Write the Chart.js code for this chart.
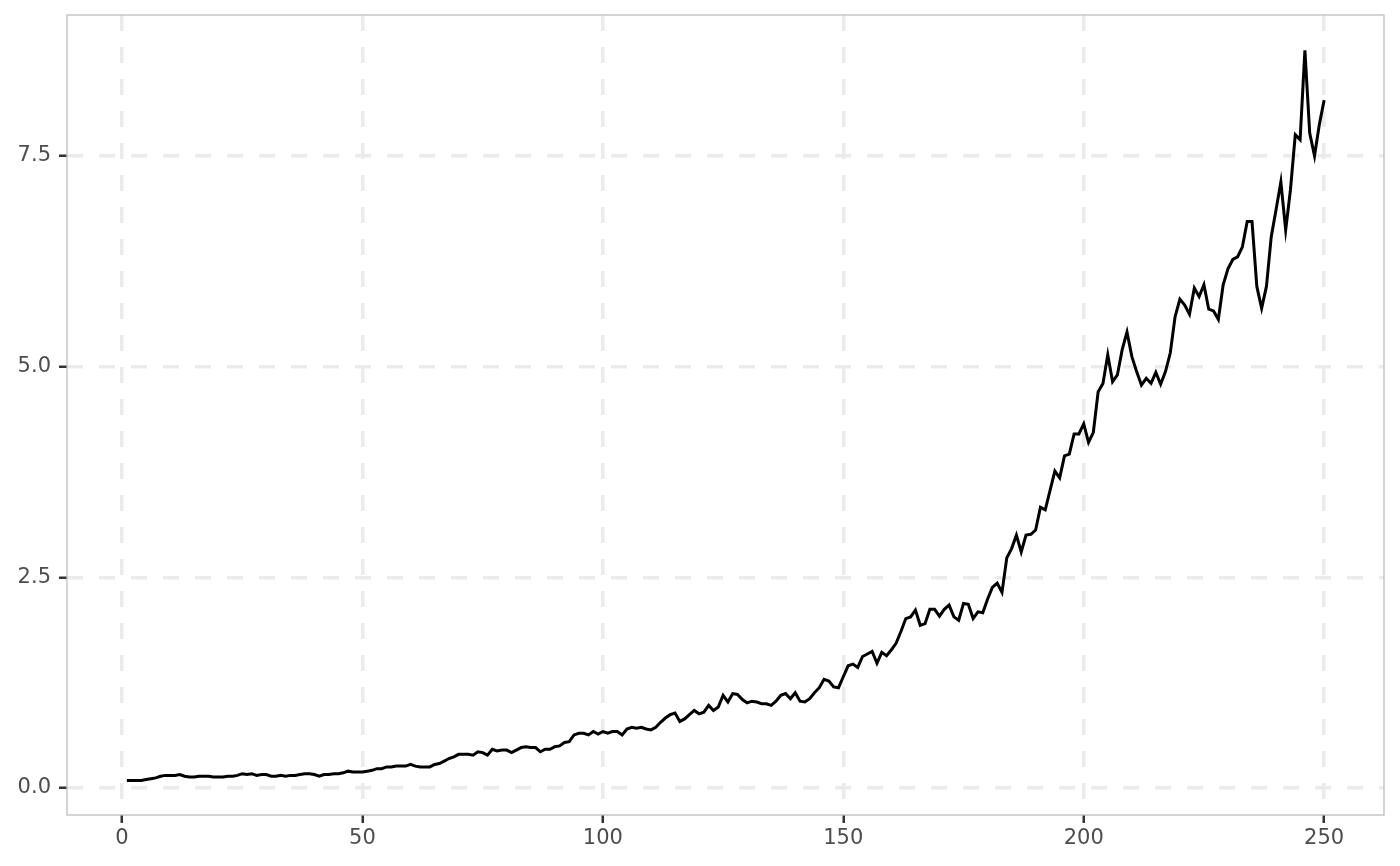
<!DOCTYPE html>
<html>
<head>
<meta charset="utf-8">
<script src="https://cdn.jsdelivr.net/npm/chart.js@4/dist/chart.umd.min.js"></script>
<style>
    html, body { margin: 0; padding: 0; background: #ffffff; }
    #wrap { width: 1400px; height: 866px; }
</style>
</head>
<body>
<div id="wrap"><canvas id="lineChart" width="1400" height="866"></canvas></div>
<script>
// Series values, one per step (step 1 .. 250)
const seriesValues = [
    0.09, 0.09, 0.09, 0.09, 0.10, 0.11, 0.12, 0.14, 0.15, 0.15,
    0.15, 0.16, 0.14, 0.13, 0.13, 0.14, 0.14, 0.14, 0.13, 0.13,
    0.13, 0.14, 0.14, 0.15, 0.17, 0.16, 0.17, 0.15, 0.16, 0.16,
    0.14, 0.14, 0.15, 0.14, 0.15, 0.15, 0.16, 0.17, 0.17, 0.16,
    0.14, 0.16, 0.16, 0.17, 0.17, 0.18, 0.20, 0.19, 0.19, 0.19,
    0.20, 0.21, 0.23, 0.23, 0.25, 0.25, 0.26, 0.26, 0.26, 0.28,
    0.26, 0.25, 0.25, 0.25, 0.28, 0.29, 0.32, 0.35, 0.37, 0.40,
    0.40, 0.40, 0.39, 0.43, 0.42, 0.39, 0.46, 0.44, 0.45, 0.45,
    0.42, 0.45, 0.48, 0.49, 0.48, 0.48, 0.43, 0.46, 0.46, 0.49,
    0.50, 0.54, 0.55, 0.63, 0.65, 0.65, 0.63, 0.67, 0.64, 0.67,
    0.65, 0.67, 0.67, 0.63, 0.70, 0.72, 0.71, 0.72, 0.70, 0.69,
    0.72, 0.78, 0.83, 0.87, 0.89, 0.79, 0.82, 0.87, 0.92, 0.88,
    0.90, 0.98, 0.92, 0.96, 1.10, 1.02, 1.12, 1.11, 1.05, 1.01,
    1.03, 1.02, 1.00, 1.00, 0.98, 1.03, 1.10, 1.12, 1.06, 1.13,
    1.03, 1.02, 1.06, 1.13, 1.19, 1.29, 1.27, 1.20, 1.19, 1.32,
    1.45, 1.47, 1.43, 1.56, 1.59, 1.62, 1.48, 1.61, 1.57, 1.64,
    1.72, 1.86, 2.01, 2.03, 2.11, 1.93, 1.95, 2.12, 2.12, 2.04,
    2.12, 2.17, 2.03, 1.99, 2.19, 2.18, 2.01, 2.09, 2.08, 2.24,
    2.38, 2.43, 2.32, 2.73, 2.84, 3.00, 2.80, 3.00, 3.01, 3.06,
    3.33, 3.30, 3.53, 3.76, 3.68, 3.94, 3.96, 4.20, 4.20, 4.32,
    4.10, 4.22, 4.70, 4.80, 5.14, 4.82, 4.90, 5.20, 5.41, 5.12,
    4.94, 4.78, 4.86, 4.80, 4.93, 4.79, 4.94, 5.16, 5.59, 5.80,
    5.73, 5.62, 5.93, 5.83, 5.97, 5.68, 5.66, 5.56, 5.97, 6.16,
    6.27, 6.30, 6.42, 6.72, 6.72, 5.95, 5.69, 5.95, 6.54, 6.86,
    7.19, 6.62, 7.10, 7.75, 7.69, 8.75, 7.77, 7.50, 7.87, 8.16
];

// Axis ticks
const xTicks = [0, 50, 100, 150, 200, 250];
const yTicks = [0, 2.5, 5, 7.5];

// Axis limits (ggplot-style 5% expansion)
const xMin = -11.45, xMax = 262.45;
const yMin = -0.32, yMax = 9.17;

const points = seriesValues.map((v, i) => ({ x: i + 1, y: v }));

// panel border like ggplot's panel.border
const panelBorder = {
    id: 'panelBorder',
    afterDatasetsDraw(chart) {
        const a = chart.chartArea;
        const ctx = chart.ctx;
        ctx.save();
        ctx.strokeStyle = '#BDBDBD';
        ctx.lineWidth = 1.3;
        ctx.strokeRect(a.left, a.top, a.right - a.left, a.bottom - a.top);
        ctx.restore();
    }
};

const tickFont = { family: 'DejaVu Sans', size: 21 };

new Chart(document.getElementById('lineChart'), {
    type: 'line',
    data: {
        datasets: [{
            data: points,
            borderColor: '#000000',
            borderWidth: 3,
            pointRadius: 0,
            tension: 0,
            fill: false
        }]
    },
    options: {
        responsive: false,
        animation: false,
        events: [],
        layout: { padding: { top: 15, right: 16, left: 0, bottom: 0 } },
        plugins: {
            legend: { display: false },
            tooltip: { enabled: false }
        },
        scales: {
            x: {
                type: 'linear',
                min: xMin,
                max: xMax,
                afterBuildTicks: (scale) => { scale.ticks = xTicks.map(v => ({ value: v })); },
                afterFit: (scale) => {
                    scale.height = 51;
                    scale.paddingLeft = 0;
                    scale.paddingRight = 0;
                },
                grid: {
                    color: '#EBEBEB',
                    lineWidth: 3.5,
                    tickLength: 8,
                    tickColor: '#333333',
                    tickWidth: 2.5,
                    tickBorderDash: []
                },
                border: { display: false, dash: [16, 16] },
                ticks: {
                    color: '#4D4D4D',
                    font: tickFont,
                    padding: 3,
                    maxRotation: 0,
                    callback: (v) => String(v)
                }
            },
            y: {
                type: 'linear',
                min: yMin,
                max: yMax,
                afterBuildTicks: (scale) => { scale.ticks = yTicks.map(v => ({ value: v })); },
                afterFit: (scale) => {
                    scale.width = 67;
                    scale.paddingTop = 0;
                    scale.paddingBottom = 0;
                },
                grid: {
                    color: '#EBEBEB',
                    lineWidth: 3.5,
                    tickLength: 8,
                    tickColor: '#333333',
                    tickWidth: 2.5,
                    tickBorderDash: []
                },
                border: { display: false, dash: [16, 16] },
                ticks: {
                    color: '#4D4D4D',
                    font: tickFont,
                    padding: 8,
                    callback: (v) => Number(v).toFixed(1)
                }
            }
        }
    },
    plugins: [panelBorder]
});
</script>
</body>
</html>
